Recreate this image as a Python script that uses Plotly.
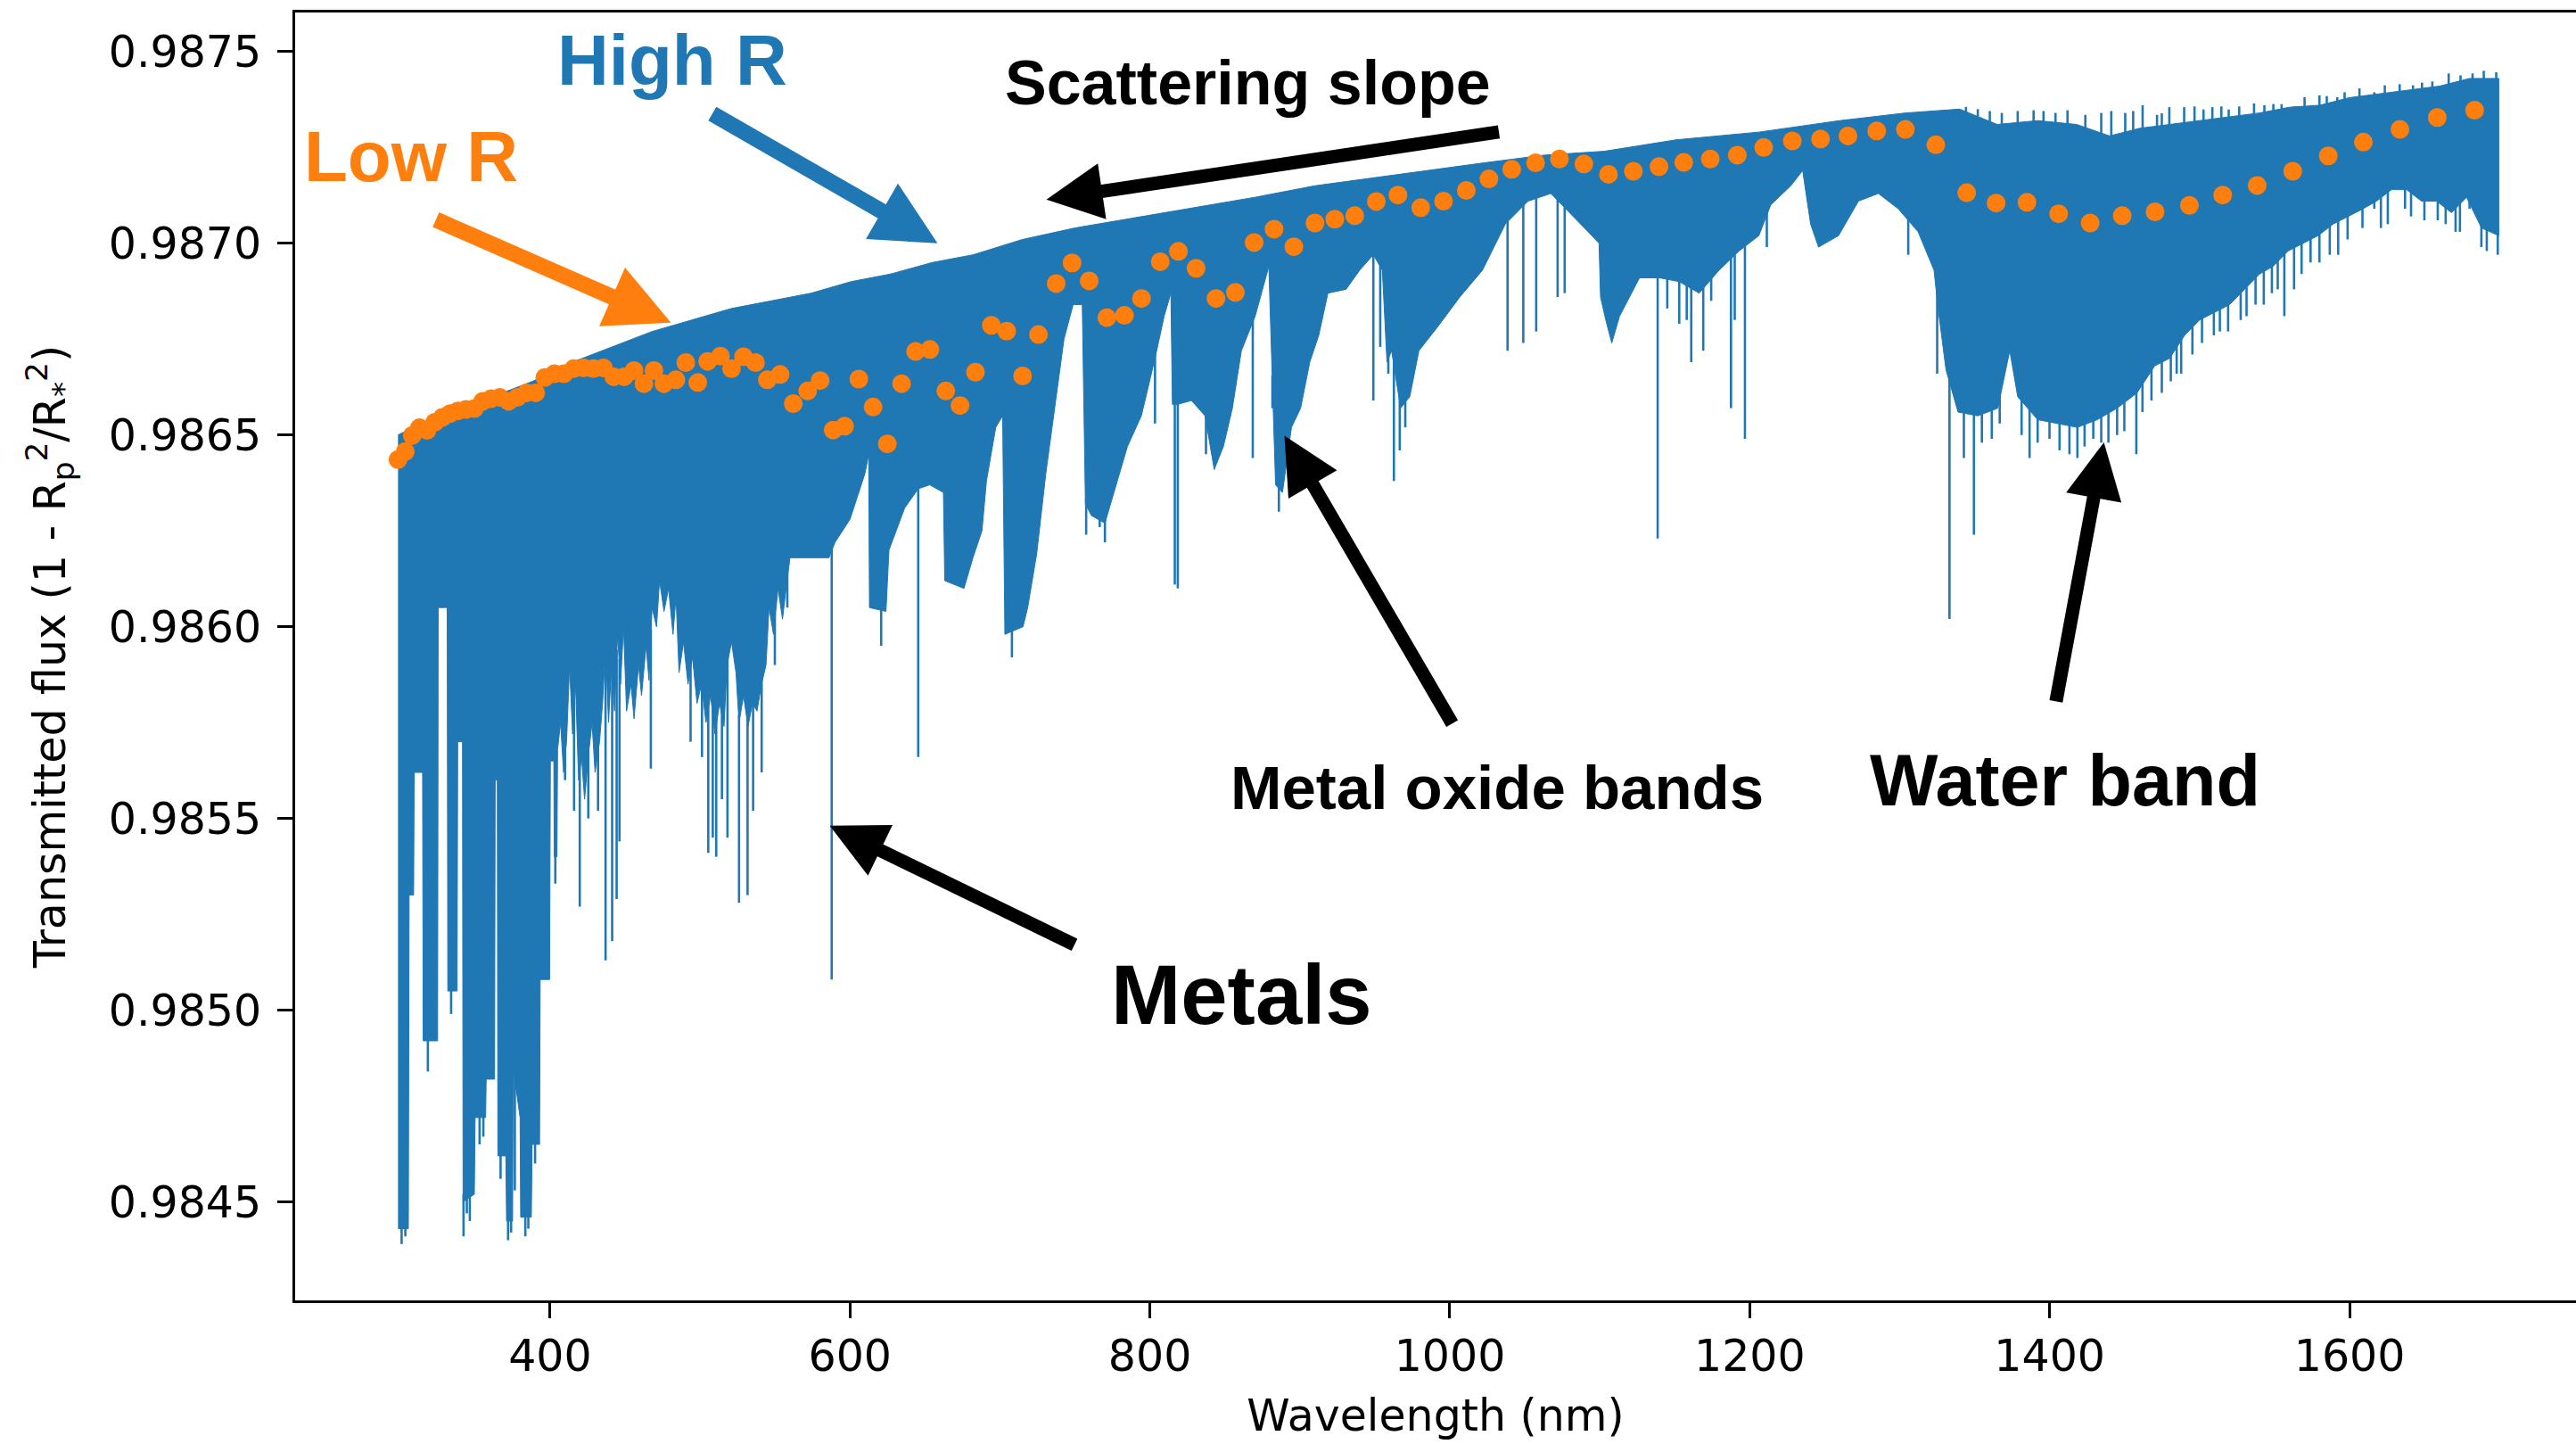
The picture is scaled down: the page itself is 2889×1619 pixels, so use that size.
import numpy as np
import plotly.graph_objects as go

BLUE = "#1f77b4"
ORANGE = "#ff7f0e"

# ---------------- high-resolution spectrum ----------------
# upper envelope of the dense line forest
top_wl = [298.6, 308.7, 335.2, 361.8, 388.3, 414.9, 441.4, 468.0, 494.5, 521.0, 547.6, 574.1,
          600.7, 627.2, 655.0, 682.0, 715.0, 750.0, 780.0, 810.0, 840.0, 870.0, 910.0, 947.0,
          985.0, 1023.0, 1063.0, 1103.0, 1151.0, 1206.0, 1260.0, 1304.0, 1340.0, 1365.0,
          1392.0, 1418.0, 1440.0, 1460.0, 1480.0, 1500.0, 1520.0, 1540.0, 1560.0, 1580.0,
          1600.0, 1620.0, 1640.0, 1660.0, 1680.0, 1699.5]
top_v = [0.98650, 0.98652, 0.98656, 0.98660, 0.98664, 0.98669, 0.98673, 0.98677, 0.98680,
         0.98683, 0.98685, 0.98687, 0.98690, 0.98692, 0.98695, 0.98697, 0.98701, 0.98704,
         0.98706, 0.98708, 0.98710, 0.98712, 0.98715, 0.98717, 0.98719, 0.98721, 0.98723,
         0.98724, 0.98727, 0.98729, 0.98732, 0.98734, 0.98735, 0.98731, 0.98732, 0.98731,
         0.98728, 0.98730, 0.98731, 0.98732, 0.98733, 0.98734, 0.987355, 0.98736, 0.98738,
         0.98739, 0.98740, 0.98741, 0.98743, 0.98743]

# lower edge of the solid part of the line forest
bot_wl = [298.6, 305.5, 306.0, 309.0, 309.4, 315.0, 315.4, 325.0, 325.4, 331.4, 331.8, 338.0,
          338.4, 341.6, 342.0, 349.5, 350.0, 357.0, 357.4, 363.0, 363.4, 364.8, 365.2, 370.5,
          371.0, 375.0, 375.4, 380.0, 380.4, 387.5, 388.0, 393.0, 393.4, 399.7, 400.2, 402.5,
          402.8, 404.6, 405.0, 407.0, 409.0, 411.0, 413.0, 415.0, 417.0, 419.0, 421.0, 423.0,
          426.0, 428.0, 430.0, 433.0, 435.0, 437.0, 439.0, 441.0, 443.0, 445.0, 447.0, 449.0,
          451.0, 454.0, 456.0, 459.0, 461.0, 464.0, 466.0, 468.0, 471.0, 473.0, 476.0, 479.0,
          482.0, 484.0, 486.0, 489.0, 492.0, 495.0, 498.0, 501.0, 504.0, 507.0, 510.0, 513.0,
          516.0, 518.0, 521.0, 524.0, 526.0, 529.0, 532.0, 535.0, 538.0, 541.0, 544.0, 546.0,
          549.0, 552.0, 555.0, 558.0, 560.0, 586.0, 590.0, 600.0, 610.0, 612.5, 613.0, 624.0,
          626.0, 636.5, 645.6, 653.2, 662.3, 663.2, 676.0, 682.0, 688.0, 691.0, 697.2, 701.8,
          703.3, 715.4, 718.5, 724.5, 730.6, 736.7, 742.7, 748.8, 754.9, 757.0, 761.0, 770.0,
          776.0, 785.0, 794.3, 803.4, 809.5, 814.0, 815.0, 818.6, 827.7, 836.8, 842.9, 849.0,
          855.0, 861.0, 867.0, 870.2, 879.3, 883.8, 888.4, 894.4, 900.5, 906.6, 912.6, 918.7,
          930.8, 939.9, 949.0, 955.0, 958.1, 961.2, 967.2, 973.3, 979.4, 991.5, 1006.7,
          1021.8, 1037.0, 1052.2, 1067.4, 1082.5, 1094.7, 1099.5, 1100.5, 1104.0, 1108.0,
          1113.2, 1126.5, 1139.8, 1153.0, 1166.3, 1179.6, 1192.9, 1206.1, 1214.0, 1227.4,
          1235.3, 1240.6, 1245.9, 1259.2, 1272.5, 1285.8, 1299.0, 1312.3, 1322.9, 1325.6,
          1330.9, 1338.9, 1352.1, 1365.4, 1373.4, 1378.7, 1392.0, 1405.2, 1418.5, 1431.8,
          1445.0, 1458.3, 1470.0, 1480.0, 1490.0, 1500.0, 1510.0, 1520.0, 1530.0, 1540.0,
          1549.0, 1559.0, 1569.0, 1579.0, 1589.0, 1599.0, 1609.0, 1618.0, 1628.0, 1638.0,
          1648.0, 1658.0, 1668.0, 1678.0, 1688.0, 1699.5]
bot_v = [0.98443, 0.98443, 0.98530, 0.98530, 0.98562, 0.98562, 0.98492, 0.98492, 0.98605,
         0.98605, 0.98505, 0.98505, 0.98570, 0.98570, 0.98450, 0.98452, 0.98472, 0.98472,
         0.98482, 0.98482, 0.98560, 0.98560, 0.98462, 0.98462, 0.98445, 0.98445, 0.98485,
         0.98472, 0.98446, 0.98446, 0.98465, 0.98465, 0.98508, 0.98508, 0.98565, 0.98565,
         0.98540, 0.98540, 0.98568, 0.98575, 0.98562, 0.98570, 0.98590, 0.98572, 0.98585,
         0.98560, 0.98566, 0.98555, 0.98568, 0.98575, 0.98562, 0.98570, 0.98580, 0.98595,
         0.98575, 0.98590, 0.98578, 0.98598, 0.98585, 0.98600, 0.98578, 0.98585, 0.98576,
         0.98590, 0.98582, 0.98595, 0.98586, 0.98605, 0.98600, 0.98612, 0.98604, 0.98610,
         0.98598, 0.98608, 0.98588, 0.98596, 0.98585, 0.98592, 0.98580, 0.98585, 0.98575,
         0.98582, 0.98572, 0.98580, 0.98574, 0.98590, 0.98596, 0.98588, 0.98575, 0.98582,
         0.98574, 0.98580, 0.98578, 0.98585, 0.98590, 0.98605, 0.98598, 0.98610, 0.98602,
         0.98612, 0.98618, 0.98618, 0.98622, 0.98628, 0.98640, 0.98645, 0.98605, 0.98604,
         0.98620, 0.98631, 0.98636, 0.98637, 0.98635, 0.98612, 0.98610, 0.98618, 0.98625,
         0.98638, 0.98652, 0.98655, 0.98598, 0.98600, 0.98605, 0.98619, 0.98640, 0.98657,
         0.98675, 0.98684, 0.98684, 0.98632, 0.98629, 0.98627, 0.98635, 0.98647, 0.98655,
         0.98670, 0.98681, 0.98687, 0.98658, 0.98658, 0.98659, 0.98655, 0.98641, 0.98647,
         0.98657, 0.98672, 0.98678, 0.98681, 0.98694, 0.98637, 0.98635, 0.98652, 0.98657,
         0.98669, 0.98676, 0.98687, 0.98688, 0.98693, 0.98697, 0.98693, 0.98669, 0.98672,
         0.98657, 0.98660, 0.98672, 0.98678, 0.98686, 0.98693, 0.98705, 0.98711, 0.98713,
         0.98707, 0.98702, 0.98700, 0.98686, 0.98680, 0.98674, 0.98681, 0.98691, 0.98691,
         0.98690, 0.98687, 0.98693, 0.98698, 0.98702, 0.98710, 0.98715, 0.98719, 0.98705,
         0.98699, 0.98702, 0.98711, 0.98713, 0.98709, 0.98703, 0.98693, 0.98683, 0.98667,
         0.98656, 0.98655, 0.98657, 0.98672, 0.98660, 0.98654, 0.98653, 0.98652, 0.98654,
         0.98657, 0.98661, 0.98668, 0.98670, 0.98676, 0.98680, 0.98682, 0.98684, 0.98688,
         0.98692, 0.98694, 0.98698, 0.98700, 0.98702, 0.98705, 0.98707, 0.98709, 0.98711,
         0.98714, 0.98714, 0.98711, 0.98711, 0.98708, 0.98712, 0.98704, 0.98702]

# individual deep absorption lines (wavelength, lowest value)
line_wl = [301.0, 303.5, 318.5, 322.3, 334.0, 342.3, 344.5, 346.5, 353.0, 355.5, 367.0, 372.0,
           374.0, 376.5, 378.5, 383.5, 385.5, 390.0, 403.5, 410.0, 416.0, 419.8, 425.5, 432.0,
           437.0, 441.4, 444.4, 446.3, 467.2, 493.7, 501.3, 505.5, 508.5, 510.8, 514.6, 518.3,
           526.0, 531.7, 535.4, 541.1, 549.9, 558.2, 587.8, 620.8, 645.5, 708.0, 757.5, 766.5,
           770.0, 803.4, 816.6, 818.6, 837.4, 868.6, 881.7, 886.0, 949.0, 953.6, 959.0, 962.7,
           966.6, 970.3, 1038.5, 1049.0, 1057.6, 1071.9, 1076.6, 1138.6, 1145.0, 1153.0,
           1158.0, 1161.0, 1169.0, 1174.3, 1187.5, 1190.0, 1196.8, 1211.4, 1305.7, 1325.0,
           1333.2, 1342.8, 1349.5, 1354.8, 1361.4, 1366.7, 1381.3,
           1386.6, 1392.0, 1399.9, 1406.6, 1413.2, 1418.5, 1423.3, 1429.1, 1434.4, 1439.2,
           1445.0, 1449.8, 1457.8, 1461.9, 1467.9, 1474.8, 1480.8, 1484.7, 1487.7, 1495.2,
           1501.6, 1509.5, 1513.5, 1519.0, 1527.4, 1531.3, 1537.3, 1542.8, 1548.2, 1552.1,
           1556.5, 1563.0, 1568.0, 1574.0, 1579.9, 1586.8, 1592.4, 1598.7, 1608.6, 1616.5,
           1620.9, 1625.5, 1637.0, 1641.0, 1649.9, 1658.8, 1664.1, 1670.7, 1673.6, 1680.0,
           1687.9, 1691.5, 1698.8]
line_lo = [0.98439, 0.98441, 0.98484, 0.98500, 0.98499, 0.98441, 0.98447, 0.98445, 0.98465,
           0.98467, 0.98456, 0.98440, 0.98442, 0.98453, 0.98490, 0.98441, 0.98443, 0.98460,
           0.98533, 0.98560, 0.98552, 0.98527, 0.98550, 0.98552, 0.98513, 0.98518, 0.98529,
           0.98544, 0.98563, 0.98570, 0.98566, 0.98541, 0.98545, 0.98540, 0.98555, 0.98545,
           0.98528, 0.98530, 0.98552, 0.98562, 0.98590, 0.98605, 0.98508, 0.98595, 0.98566,
           0.98592, 0.98624, 0.98626, 0.98622, 0.98653, 0.98611, 0.98610, 0.98645, 0.98644,
           0.98657, 0.98630, 0.98659, 0.98673, 0.98666, 0.98638, 0.98646, 0.98652, 0.98672,
           0.98674, 0.98677, 0.98686, 0.98687, 0.98623, 0.98683, 0.98679, 0.98680, 0.98669,
           0.98672, 0.98685, 0.98657, 0.98680, 0.98649, 0.98699, 0.98697, 0.98666,
           0.98602, 0.98644, 0.98624, 0.98648, 0.98649, 0.98653, 0.98650,
           0.98644, 0.98648, 0.98649, 0.98646, 0.98645, 0.98644, 0.98647, 0.98649, 0.98648,
           0.98648, 0.98650, 0.98651, 0.98645, 0.98656, 0.98659, 0.98661, 0.98664, 0.98666,
           0.98666, 0.98671, 0.98674, 0.98676, 0.98677, 0.98677, 0.98680, 0.98681, 0.98684,
           0.98684, 0.98687, 0.98688, 0.98681, 0.98688, 0.98692, 0.98695, 0.98695, 0.98697,
           0.98697, 0.98701, 0.98704, 0.98709, 0.98704, 0.98705, 0.98709, 0.98707, 0.98706,
           0.98706, 0.98705, 0.98703, 0.98703, 0.98709, 0.98699, 0.98698, 0.98697]

# upward noise spikes on the red side (wavelength, highest value)
peak_wl = [1344.2, 1352.1, 1360.1, 1368.1, 1378.7, 1389.3, 1395.9, 1403.9, 1411.9, 1423.8,
           1434.4, 1441.1, 1450.4, 1455.7, 1462.0, 1471.6, 1474.8, 1479.8, 1489.7, 1496.6,
           1502.6, 1508.5, 1514.5, 1519.4, 1526.4, 1536.3, 1543.2, 1549.2, 1554.7, 1563.0,
           1570.0, 1579.9, 1584.8, 1591.8, 1596.7, 1606.6, 1616.5, 1623.5, 1633.4, 1642.3,
           1648.3, 1655.2, 1666.1, 1674.0, 1682.0, 1689.5, 1697.8]
peak_hi = [0.987356, 0.987350, 0.987345, 0.987340, 0.987345, 0.987347, 0.987345, 0.987340,
           0.987347, 0.987335, 0.987340, 0.987345, 0.987340, 0.987345, 0.987360, 0.987335,
           0.987339, 0.987355, 0.987355, 0.987357, 0.987349, 0.987355, 0.987357, 0.987349,
           0.987357, 0.987365, 0.987360, 0.987363, 0.987363, 0.987357, 0.987381, 0.987386,
           0.987384, 0.987381, 0.987394, 0.987404, 0.987394, 0.987412, 0.987415, 0.987412,
           0.987419, 0.987422, 0.987443, 0.987438, 0.987443, 0.987450, 0.987446]

# ---------------- low-resolution binned spectrum ----------------
low_wl = [298.6, 303.4, 308.1, 312.9, 317.9, 323.0, 328.1, 333.4, 338.7, 344.0, 349.6, 355.1,
          360.7, 366.5, 372.4, 378.2, 384.3, 390.4, 396.5, 402.9, 409.3, 415.7, 422.3, 428.9,
          435.6, 442.5, 449.4, 456.0, 462.6, 469.3, 475.9, 483.9, 490.5, 498.5, 505.1, 513.6,
          521.0, 529.0, 537.0, 544.9, 553.4, 562.2, 571.8, 580.1, 588.8, 596.4, 605.9, 615.4,
          624.9, 634.4, 643.8, 653.3, 663.9, 673.4, 683.7, 694.3, 704.5, 715.1, 725.7, 737.5,
          748.1, 759.5, 771.3, 783.0, 794.4, 806.9, 819.0, 830.8, 844.1, 857.0, 869.5, 882.8,
          896.0, 910.1, 923.3, 936.6, 951.0, 965.4, 980.6, 995.8, 1011.0, 1026.1, 1041.3,
          1057.2, 1073.1, 1089.4, 1105.8, 1122.4, 1139.5, 1156.0, 1173.7, 1191.7, 1209.3,
          1228.4, 1247.2, 1265.5, 1284.7, 1303.8, 1324.1, 1344.7, 1364.3, 1384.9, 1406.0,
          1427.0, 1448.4, 1470.3, 1493.2, 1515.4, 1538.4, 1562.1, 1585.8, 1609.2, 1633.6,
          1658.5, 1683.4]
low_v = [0.986436, 0.986457, 0.986499, 0.986519, 0.986512, 0.986533, 0.986546, 0.986556,
         0.986563, 0.986567, 0.986569, 0.986588, 0.986595, 0.986598, 0.986588, 0.986598,
         0.986610, 0.986610, 0.986650, 0.986660, 0.986660, 0.986673, 0.986675, 0.986673,
         0.986675, 0.986652, 0.986652, 0.986668, 0.986634, 0.986668, 0.986634, 0.986644,
         0.986689, 0.986637, 0.986692, 0.986706, 0.986673, 0.986704, 0.986689, 0.986644,
         0.986658, 0.986582, 0.986615, 0.986642, 0.986513, 0.986523, 0.986646, 0.986573,
         0.986477, 0.986634, 0.986718, 0.986723, 0.986615, 0.986577, 0.986664, 0.986786,
         0.986771, 0.986654, 0.986762, 0.986895, 0.986949, 0.986902, 0.986806, 0.986812,
         0.986856, 0.986952, 0.986979, 0.986935, 0.986856, 0.986872, 0.987002, 0.987037,
         0.986991, 0.987053, 0.987063, 0.987072, 0.987109, 0.987126, 0.987093, 0.987110,
         0.987138, 0.987168, 0.987193, 0.987210, 0.987220, 0.987207, 0.987180, 0.987188,
         0.987200, 0.987211, 0.987220, 0.987230, 0.987250, 0.987267, 0.987272, 0.987280,
         0.987293, 0.987297, 0.987257, 0.987132, 0.987105, 0.987107, 0.987077, 0.987053,
         0.987072, 0.987082, 0.987099, 0.987126, 0.987151, 0.987188, 0.987228, 0.987264,
         0.987297, 0.987328, 0.987347]

x_ticks = [400, 600, 800, 1000, 1200, 1400, 1600]
y_ticks = [0.9845, 0.9850, 0.9855, 0.9860, 0.9865, 0.9870, 0.9875]

# ---------------- figure ----------------
fig = go.Figure()

# solid line forest as a filled band
fig.add_trace(go.Scatter(
    x=top_wl + bot_wl[::-1], y=top_v + bot_v[::-1],
    fill="toself", fillcolor=BLUE, mode="lines",
    line=dict(color=BLUE, width=1), hoverinfo="skip"))

# deep lines hanging from the band, and upward spikes on top
bw = np.array(bot_wl); bv = np.array(bot_v)
tw = np.array(top_wl); tv = np.array(top_v)
lx, ly = [], []
for w, lo in zip(line_wl, line_lo):
    start = float(np.interp(w, bw, bv)) + 0.00002
    lx += [w, w, None]; ly += [start, lo, None]
for w, hi in zip(peak_wl, peak_hi):
    start = float(np.interp(w, tw, tv)) - 0.00002
    lx += [w, w, None]; ly += [start, hi, None]
fig.add_trace(go.Scatter(x=lx, y=ly, mode="lines", line=dict(color=BLUE, width=2.6),
                         hoverinfo="skip"))

fig.add_trace(go.Scatter(x=low_wl, y=low_v, mode="markers",
                         marker=dict(color=ORANGE, size=21, line=dict(width=0))))

TXT = dict(family="Liberation Sans, Arial, Helvetica, sans-serif", weight="bold")

labels = [
    ("High R", 481.8, 0.987477, 80, BLUE),
    ("Low R", 307.5, 0.987226, 80, ORANGE),
    ("Scattering slope", 865.3, 0.987419, 70, "black"),
    ("Metals", 861.2, 0.985039, 94, "black"),
    ("Metal oxide bands", 1031.8, 0.985579, 69, "black"),
    ("Water band", 1410.0, 0.985600, 81, "black"),
]
for t, x, y, s, c in labels:
    fig.add_annotation(x=x, y=y, xref="x", yref="y", text=t, showarrow=False,
                       xanchor="center", yanchor="middle",
                       font=dict(size=s, color=c, **TXT))

arrows = [  # tip (x, y), tail (ax, ay), colour, shaft width, head scale
    (480.6, 0.986793, 323.0, 0.987063, ORANGE, 18, 0.8),
    (658.4, 0.987000, 507.3, 0.987340, BLUE, 18, 0.8),
    (731.0, 0.987114, 1033.6, 0.987291, "black", 15, 0.84),
    (586.5, 0.985481, 750.6, 0.985169, "black", 15, 0.84),
    (889.7, 0.986498, 1002.1, 0.985744, "black", 15, 0.84),
    (1436.2, 0.986481, 1404.1, 0.985802, "black", 15, 0.84),
]
for x, y, ax, ay, c, w, s in arrows:
    fig.add_annotation(x=x, y=y, ax=ax, ay=ay, xref="x", yref="y", axref="x", ayref="y",
                       text="", showarrow=True, arrowhead=2, arrowsize=s,
                       arrowwidth=w, arrowcolor=c, standoff=0)

AX = dict(showgrid=False, zeroline=False, showline=True, linecolor="black", linewidth=3,
          ticks="outside", ticklen=17, tickwidth=3, tickcolor="black",
          tickfont=dict(family="DejaVu Sans", size=49, color="black"),
          title_font=dict(family="DejaVu Sans", size=49, color="black"))

fig.update_layout(
    width=2889, height=1619,
    margin=dict(l=331, r=0, t=14, b=161),
    plot_bgcolor="white", paper_bgcolor="white",
    showlegend=False,
    xaxis=dict(range=[230, 1751], tickvals=x_ticks, mirror=True,
               title=dict(text="Wavelength (nm)", standoff=22),
               ticklabelstandoff=0, **AX),
    yaxis=dict(range=[0.984243, 0.987602], tickvals=y_ticks, tickformat=".4f",
               title=dict(text="Transmitted flux (1 - R<sub>p</sub><sup>2</sup>/R<sub>*</sub><sup>2</sup>)",
                          standoff=33),
               ticklabelstandoff=8, **AX),
)

fig.write_html("out.html",
               config={"displayModeBar": False},
               post_script="document.body.style.margin='0';"
                           "document.body.style.overflow='hidden';")
